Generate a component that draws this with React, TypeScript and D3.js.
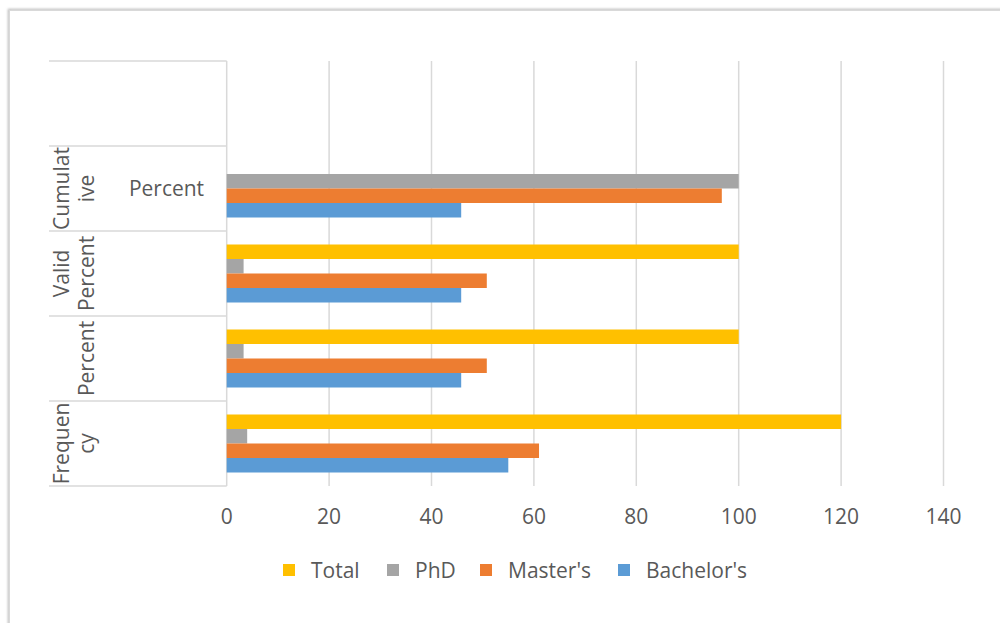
import React from "react";
import * as d3 from "d3";

// Categories listed top to bottom as they appear on the axis
const categories = ["", "Cumulative Percent", "Valid Percent", "Percent", "Frequency"];
// Wrapped outer-level label lines (rotated) per category
const outerLabelLines: string[][] = [[], ["Cumulat", "ive"], ["Valid", "Percent"], ["", "Percent"], ["Frequen", "cy"]];
// Inner-level (horizontal) labels per category
const innerLabels = ["", "Percent", "", "", ""];

const seriesNames = ["Total", "PhD", "Master's", "Bachelor's"];
const seriesColors = ["#FFC000", "#A5A5A5", "#ED7D31", "#5B9BD5"];

// values per category (same order as categories)
const totalValues: (number | null)[] = [null, null, 100, 100, 120];
const phdValues: (number | null)[] = [null, 100, 3.3, 3.3, 4];
const mastersValues: (number | null)[] = [null, 96.7, 50.8, 50.8, 61];
const bachelorsValues: (number | null)[] = [null, 45.8, 45.8, 45.8, 55];

const xTicks = [0, 20, 40, 60, 80, 100, 120, 140];

const W = 1000;
const H = 623;
const plotLeft = 226.7;
const plotRight = 943.5;
const plotTop = 61;
const plotBottom = 486;
const labelLeft = 49;
const FONT = "'Open Sans', sans-serif";
const TEXT = "#595959";
const GRID = "#D9D9D9";

export default function App() {
  const x = d3.scaleLinear().domain([0, 140]).range([plotLeft, plotRight]);
  const y = d3.scaleBand<string>().domain(categories).range([plotTop, plotBottom]).paddingInner(0).paddingOuter(0);
  const bw = y.bandwidth();
  const groupPad = 13.5;
  const inner = d3.scaleBand<string>().domain(seriesNames).range([groupPad, bw - groupPad]).padding(0);
  const allSeries = [totalValues, phdValues, mastersValues, bachelorsValues];

  const legendX = [283, 387, 480, 618];

  return (
    <svg width={W} height={H} style={{ position: "absolute", left: 0, top: 0, background: "#fff" }} fontFamily={FONT}>
      <defs>
        <filter id="sh" x="-5%" y="-5%" width="110%" height="110%">
          <feGaussianBlur stdDeviation="1.2" />
        </filter>
      </defs>
      {/* chart frame */}
      <rect x={9} y={10} width={1100} height={800} fill="none" stroke="#bfbfbf" strokeWidth={2.5} filter="url(#sh)" />
      <rect x={9.5} y={10.5} width={1100} height={800} fill="#fff" stroke="#d9d9d9" strokeWidth={1} />

      {/* gridlines */}
      {xTicks.map((t) => (
        <line key={"g" + t} x1={x(t)} x2={x(t)} y1={plotTop} y2={plotBottom} stroke={GRID} strokeWidth={1.5} />
      ))}

      {/* category separators */}
      {categories.map((c, i) => (
        <line key={"s" + i} x1={labelLeft} x2={plotLeft} y1={y(c)!} y2={y(c)!} stroke={GRID} strokeWidth={1.5} />
      ))}
      <line x1={labelLeft} x2={plotLeft} y1={plotBottom} y2={plotBottom} stroke={GRID} strokeWidth={1.5} />

      {/* bars */}
      {allSeries.map((vals, si) =>
        vals.map((v, ci) =>
          v == null ? null : (
            <rect
              key={`b${si}-${ci}`}
              x={x(0)}
              y={y(categories[ci])! + inner(seriesNames[si])!}
              width={x(v) - x(0)}
              height={inner.bandwidth()}
              fill={seriesColors[si]}
            />
          )
        )
      )}

      {/* category labels */}
      {categories.map((c, ci) => {
        const cy = y(c)! + bw / 2;
        const lines = outerLabelLines[ci];
        const bx = [68.5, 94];
        return (
          <g key={"l" + ci}>
            {lines.map((ln, li) =>
              ln ? (
                <text
                  key={li}
                  transform={`translate(${bx[li]},${cy}) rotate(-90)`}
                  textAnchor="middle"
                  fontSize={21}
                  fill={TEXT}
                >
                  {ln}
                </text>
              ) : null
            )}
            {innerLabels[ci] ? (
              <text x={166.5} y={cy + 7.5} textAnchor="middle" fontSize={21} fill={TEXT}>
                {innerLabels[ci]}
              </text>
            ) : null}
          </g>
        );
      })}

      {/* x tick labels */}
      {xTicks.map((t) => (
        <text key={"t" + t} x={x(t)} y={524} textAnchor="middle" fontSize={21} fill={TEXT}>
          {t}
        </text>
      ))}

      {/* legend */}
      {seriesNames.map((s, i) => (
        <g key={"lg" + i}>
          <rect x={legendX[i]} y={564} width={12} height={12} fill={seriesColors[i]} />
          <text x={legendX[i] + 28} y={578} fontSize={21} fill={TEXT}>
            {s}
          </text>
        </g>
      ))}
    </svg>
  );
}
